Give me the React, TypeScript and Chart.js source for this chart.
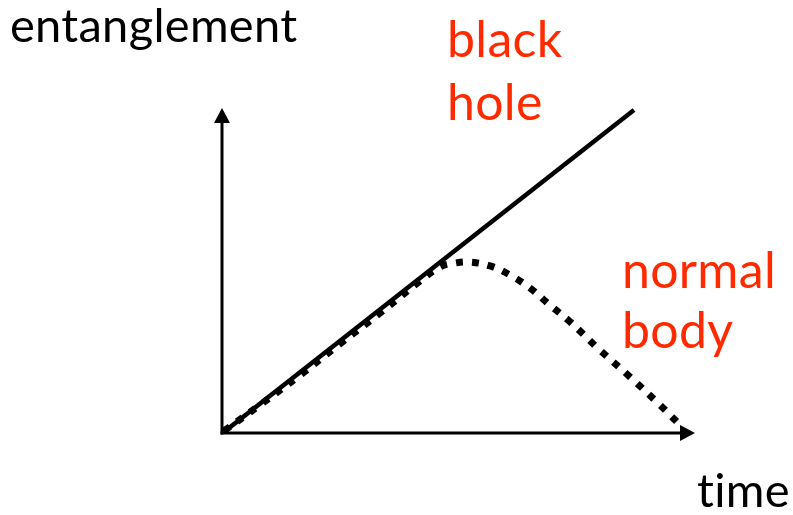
import React, { useEffect, useRef } from "react";
import { Chart, registerables } from "chart.js";

Chart.register(...registerables);

// Entanglement vs time (arbitrary units, 0..10 on both axes)
const blackHoleX = [0.04, 8.71];
const blackHoleY = [0.03, 9.94];

const normalBodyX = [0.04, 0.8, 1.65, 2.49, 3.34, 4.19, 4.61, 4.93, 5.24, 5.67, 6.09, 6.51, 6.93, 7.36, 7.99, 8.63, 9.26, 9.68];
const normalBodyY = [0.06, 0.86, 1.78, 2.74, 3.69, 4.68, 5.11, 5.23, 5.26, 5.14, 4.86, 4.46, 3.94, 3.42, 2.55, 1.72, 0.86, 0.25];

const yAxisLabel = "entanglement";
const xAxisLabel = "time";
const blackHoleLabel = ["black", "hole"];
const normalBodyLabel = ["normal", "body"];

const RED = "#ff2a00";
const FONT = "Lato, 'Noto Sans', sans-serif";

const axesAndLabels = {
  id: "axesAndLabels",
  afterDraw(chart: any) {
    const { ctx, chartArea } = chart;
    const { left, right, top, bottom } = chartArea;
    ctx.save();
    ctx.strokeStyle = "#000";
    ctx.fillStyle = "#000";
    ctx.lineWidth = 3;
    ctx.lineCap = "butt";
    // y axis
    ctx.beginPath();
    ctx.moveTo(left, bottom + 1.5);
    ctx.lineTo(left, top + 12);
    ctx.stroke();
    ctx.beginPath();
    ctx.moveTo(left, top);
    ctx.lineTo(left - 8, top + 15);
    ctx.lineTo(left + 8, top + 15);
    ctx.closePath();
    ctx.fill();
    // x axis
    ctx.beginPath();
    ctx.moveTo(left - 1.5, bottom);
    ctx.lineTo(right - 12, bottom);
    ctx.stroke();
    ctx.beginPath();
    ctx.moveTo(right, bottom);
    ctx.lineTo(right - 15, bottom - 8);
    ctx.lineTo(right - 15, bottom + 8);
    ctx.closePath();
    ctx.fill();

    ctx.textBaseline = "alphabetic";
    ctx.textAlign = "left";
    (ctx as any).letterSpacing = "0.3px";
    ctx.fillStyle = "#000";
    ctx.font = `47px ${FONT}`;
    ctx.fillText(yAxisLabel, 10, 42);
    ctx.fillText(xAxisLabel, 697, 507);

    ctx.fillStyle = RED;
    ctx.font = `50px ${FONT}`;
    ctx.fillText(blackHoleLabel[0], 447, 57);
    ctx.fillText(blackHoleLabel[1], 447, 120);
    ctx.fillText(normalBodyLabel[0], 622, 288);
    ctx.fillText(normalBodyLabel[1], 622, 348);
    ctx.restore();
  },
};

export default function App() {
  const ref = useRef<HTMLCanvasElement>(null);
  useEffect(() => {
    if (!ref.current) return;
    const chart = new Chart(ref.current, {
      type: "scatter",
      data: {
        datasets: [
          {
            label: "black hole",
            data: blackHoleX.map((x, i) => ({ x, y: blackHoleY[i] })),
            showLine: true,
            borderColor: "#000",
            borderWidth: 4.5,
            pointRadius: 0,
            fill: false,
          },
          {
            label: "normal body",
            data: normalBodyX.map((x, i) => ({ x, y: normalBodyY[i] })),
            showLine: true,
            borderColor: "#000",
            borderWidth: 7,
            borderDash: [7, 9],
            borderCapStyle: "butt",
            tension: 0.4,
            pointRadius: 0,
            fill: false,
          },
        ],
      },
      options: {
        animation: false,
        responsive: false,
        maintainAspectRatio: false,
        layout: { padding: { left: 222, right: 98, top: 108, bottom: 82 } },
        plugins: { legend: { display: false }, tooltip: { enabled: false }, title: { display: false } },
        scales: {
          x: { type: "linear", min: 0, max: 10, display: false },
          y: { type: "linear", min: 0, max: 10, display: false },
        },
        elements: { line: { clip: false } as any },
      },
      plugins: [axesAndLabels],
    });
    return () => chart.destroy();
  }, []);
  return (
    <div style={{ position: "absolute", left: 0, top: 0, width: 793, height: 515, background: "#fff" }}>
      <canvas ref={ref} width={793} height={515} style={{ display: "block" }} />
    </div>
  );
}
